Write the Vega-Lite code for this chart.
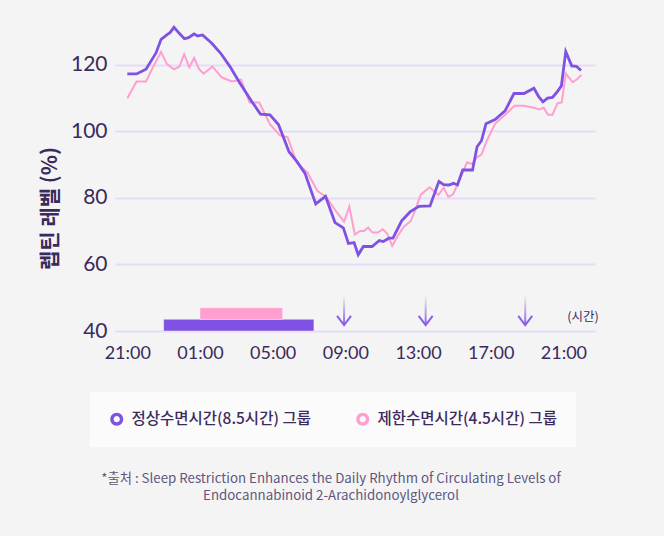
{
  "$schema": "https://vega.github.io/schema/vega-lite/v6.json",
  "width": 480,
  "height": 306,
  "autosize": {"type": "none"},
  "padding": {"left": 115, "top": 25, "right": 69, "bottom": 205},
  "background": "#f4f4f4",
  "config": {
    "view": {"stroke": null},
    "font": "Lato"
  },
  "title": {
    "text": ["*출처 : Sleep Restriction Enhances the Daily Rhythm of Circulating Levels of", "Endocannabinoid 2-Arachidonoylglycerol"],
    "orient": "bottom",
    "anchor": "middle",
    "frame": "group",
    "offset": 25,
    "dx": -24,
    "font": "Noto Sans CJK KR",
    "fontSize": 13.3,
    "fontWeight": "normal",
    "lineHeight": 16.5,
    "color": "#5f5780"
  },
  "datasets": {
    "normal": [
      {"g":"정상수면시간(8.5시간) 그룹","h":0.00,"v":117.3},{"g":"정상수면시간(8.5시간) 그룹","h":0.51,"v":117.3},{"g":"정상수면시간(8.5시간) 그룹","h":1.03,"v":118.7},{"g":"정상수면시간(8.5시간) 그룹","h":1.58,"v":123.6},{"g":"정상수면시간(8.5시간) 그룹","h":1.86,"v":127.7},{"g":"정상수면시간(8.5시간) 그룹","h":2.21,"v":129.2},{"g":"정상수면시간(8.5시간) 그룹","h":2.35,"v":129.7},{"g":"정상수면시간(8.5시간) 그룹","h":2.57,"v":131.3},{"g":"정상수면시간(8.5시간) 그룹","h":2.86,"v":129.5},{"g":"정상수면시간(8.5시간) 그룹","h":3.14,"v":127.9},{"g":"정상수면시간(8.5시간) 그룹","h":3.37,"v":128.2},{"g":"정상수면시간(8.5시간) 그룹","h":3.67,"v":129.3},{"g":"정상수면시간(8.5시간) 그룹","h":3.88,"v":128.7},{"g":"정상수면시간(8.5시간) 그룹","h":4.14,"v":129.0},{"g":"정상수면시간(8.5시간) 그룹","h":4.65,"v":126.5},{"g":"정상수면시간(8.5시간) 그룹","h":5.14,"v":123.5},{"g":"정상수면시간(8.5시간) 그룹","h":5.65,"v":119.5},{"g":"정상수면시간(8.5시간) 그룹","h":6.20,"v":114.5},{"g":"정상수면시간(8.5시간) 그룹","h":6.85,"v":109.0},{"g":"정상수면시간(8.5시간) 그룹","h":7.33,"v":105.2},{"g":"정상수면시간(8.5시간) 그룹","h":7.85,"v":105.0},{"g":"정상수면시간(8.5시간) 그룹","h":8.32,"v":102.1},{"g":"정상수면시간(8.5시간) 그룹","h":8.90,"v":93.9},{"g":"정상수면시간(8.5시간) 그룹","h":9.34,"v":90.9},{"g":"정상수면시간(8.5시간) 그룹","h":9.78,"v":87.4},{"g":"정상수면시간(8.5시간) 그룹","h":10.37,"v":78.2},{"g":"정상수면시간(8.5시간) 그룹","h":10.91,"v":80.5},{"g":"정상수면시간(8.5시간) 그룹","h":11.43,"v":72.6},{"g":"정상수면시간(8.5시간) 그룹","h":11.89,"v":71.0},{"g":"정상수면시간(8.5시간) 그룹","h":12.17,"v":66.3},{"g":"정상수면시간(8.5시간) 그룹","h":12.48,"v":66.6},{"g":"정상수면시간(8.5시간) 그룹","h":12.71,"v":62.9},{"g":"정상수면시간(8.5시간) 그룹","h":12.99,"v":65.4},{"g":"정상수면시간(8.5시간) 그룹","h":13.47,"v":65.4},{"g":"정상수면시간(8.5시간) 그룹","h":13.87,"v":67.2},{"g":"정상수면시간(8.5시간) 그룹","h":14.09,"v":66.9},{"g":"정상수면시간(8.5시간) 그룹","h":14.40,"v":67.9},{"g":"정상수면시간(8.5시간) 그룹","h":14.62,"v":67.9},{"g":"정상수면시간(8.5시간) 그룹","h":15.10,"v":73.1},{"g":"정상수면시간(8.5시간) 그룹","h":15.56,"v":75.8},{"g":"정상수면시간(8.5시간) 그룹","h":16.05,"v":77.5},{"g":"정상수면시간(8.5시간) 그룹","h":16.66,"v":77.6},{"g":"정상수면시간(8.5시간) 그룹","h":17.15,"v":85.0},{"g":"정상수면시간(8.5시간) 그룹","h":17.41,"v":84.0},{"g":"정상수면시간(8.5시간) 그룹","h":17.70,"v":83.9},{"g":"정상수면시간(8.5시간) 그룹","h":17.95,"v":84.4},{"g":"정상수면시간(8.5시간) 그룹","h":18.17,"v":83.9},{"g":"정상수면시간(8.5시간) 그룹","h":18.46,"v":88.4},{"g":"정상수면시간(8.5시간) 그룹","h":19.00,"v":88.4},{"g":"정상수면시간(8.5시간) 그룹","h":19.25,"v":95.4},{"g":"정상수면시간(8.5시간) 그룹","h":19.49,"v":97.2},{"g":"정상수면시간(8.5시간) 그룹","h":19.74,"v":102.3},{"g":"정상수면시간(8.5시간) 그룹","h":20.24,"v":103.6},{"g":"정상수면시간(8.5시간) 그룹","h":20.79,"v":106.2},{"g":"정상수면시간(8.5시간) 그룹","h":21.28,"v":111.4},{"g":"정상수면시간(8.5시간) 그룹","h":21.83,"v":111.4},{"g":"정상수면시간(8.5시간) 그룹","h":22.38,"v":113.0},{"g":"정상수면시간(8.5시간) 그룹","h":22.65,"v":110.4},{"g":"정상수면시간(8.5시간) 그룹","h":22.88,"v":108.9},{"g":"정상수면시간(8.5시간) 그룹","h":23.13,"v":110.0},{"g":"정상수면시간(8.5시간) 그룹","h":23.40,"v":110.2},{"g":"정상수면시간(8.5시간) 그룹","h":23.63,"v":111.7},{"g":"정상수면시간(8.5시간) 그룹","h":23.89,"v":113.7},{"g":"정상수면시간(8.5시간) 그룹","h":24.13,"v":124.0},{"g":"정상수면시간(8.5시간) 그룹","h":24.46,"v":119.7},{"g":"정상수면시간(8.5시간) 그룹","h":24.72,"v":119.6},{"g":"정상수면시간(8.5시간) 그룹","h":24.97,"v":118.3}
    ],
    "restricted": [
      {"g":"제한수면시간(4.5시간) 그룹","h":0.00,"v":110.0},{"g":"제한수면시간(4.5시간) 그룹","h":0.51,"v":115.0},{"g":"제한수면시간(4.5시간) 그룹","h":1.03,"v":115.0},{"g":"제한수면시간(4.5시간) 그룹","h":1.43,"v":119.5},{"g":"제한수면시간(4.5시간) 그룹","h":1.86,"v":123.9},{"g":"제한수면시간(4.5시간) 그룹","h":2.17,"v":120.3},{"g":"제한수면시간(4.5시간) 그룹","h":2.57,"v":118.7},{"g":"제한수면시간(4.5시간) 그룹","h":2.87,"v":119.5},{"g":"제한수면시간(4.5시간) 그룹","h":3.13,"v":123.2},{"g":"제한수면시간(4.5시간) 그룹","h":3.41,"v":119.3},{"g":"제한수면시간(4.5시간) 그룹","h":3.68,"v":122.1},{"g":"제한수면시간(4.5시간) 그룹","h":3.95,"v":118.7},{"g":"제한수면시간(4.5시간) 그룹","h":4.20,"v":117.4},{"g":"제한수면시간(4.5시간) 그룹","h":4.69,"v":119.5},{"g":"제한수면시간(4.5시간) 그룹","h":5.21,"v":116.2},{"g":"제한수면시간(4.5시간) 그룹","h":5.76,"v":115.0},{"g":"제한수면시간(4.5시간) 그룹","h":6.26,"v":115.6},{"g":"제한수면시간(4.5시간) 그룹","h":6.73,"v":108.7},{"g":"제한수면시간(4.5시간) 그룹","h":7.26,"v":108.7},{"g":"제한수면시간(4.5시간) 그룹","h":7.85,"v":102.2},{"g":"제한수면시간(4.5시간) 그룹","h":8.40,"v":98.8},{"g":"제한수면시간(4.5시간) 그룹","h":8.82,"v":98.3},{"g":"제한수면시간(4.5시간) 그룹","h":9.32,"v":90.7},{"g":"제한수면시간(4.5시간) 그룹","h":9.92,"v":87.6},{"g":"제한수면시간(4.5시간) 그룹","h":10.47,"v":82.1},{"g":"제한수면시간(4.5시간) 그룹","h":10.95,"v":80.3},{"g":"제한수면시간(4.5시간) 그룹","h":11.43,"v":76.4},{"g":"제한수면시간(4.5시간) 그룹","h":11.93,"v":72.9},{"g":"제한수면시간(4.5시간) 그룹","h":12.22,"v":77.4},{"g":"제한수면시간(4.5시간) 그룹","h":12.52,"v":69.0},{"g":"제한수면시간(4.5시간) 그룹","h":12.81,"v":70.1},{"g":"제한수면시간(4.5시간) 그룹","h":13.03,"v":70.1},{"g":"제한수면시간(4.5시간) 그룹","h":13.26,"v":71.1},{"g":"제한수면시간(4.5시간) 그룹","h":13.49,"v":69.6},{"g":"제한수면시간(4.5시간) 그룹","h":13.79,"v":69.6},{"g":"제한수면시간(4.5시간) 그룹","h":14.06,"v":70.6},{"g":"제한수면시간(4.5시간) 그룹","h":14.29,"v":69.4},{"g":"제한수면시간(4.5시간) 그룹","h":14.58,"v":65.6},{"g":"제한수면시간(4.5시간) 그룹","h":14.87,"v":68.5},{"g":"제한수면시간(4.5시간) 그룹","h":15.21,"v":71.3},{"g":"제한수면시간(4.5시간) 그룹","h":15.60,"v":73.1},{"g":"제한수면시간(4.5시간) 그룹","h":15.83,"v":76.1},{"g":"제한수면시간(4.5시간) 그룹","h":16.15,"v":81.0},{"g":"제한수면시간(4.5시간) 그룹","h":16.64,"v":83.2},{"g":"제한수면시간(4.5시간) 그룹","h":17.12,"v":80.9},{"g":"제한수면시간(4.5시간) 그룹","h":17.41,"v":83.1},{"g":"제한수면시간(4.5시간) 그룹","h":17.67,"v":80.3},{"g":"제한수면시간(4.5시간) 그룹","h":17.93,"v":81.1},{"g":"제한수면시간(4.5시간) 그룹","h":18.16,"v":83.9},{"g":"제한수면시간(4.5시간) 그룹","h":18.70,"v":90.7},{"g":"제한수면시간(4.5시간) 그룹","h":18.97,"v":90.2},{"g":"제한수면시간(4.5시간) 그룹","h":19.23,"v":92.2},{"g":"제한수면시간(4.5시간) 그룹","h":19.50,"v":93.1},{"g":"제한수면시간(4.5시간) 그룹","h":19.76,"v":96.9},{"g":"제한수면시간(4.5시간) 그룹","h":20.24,"v":102.3},{"g":"제한수면시간(4.5시간) 그룹","h":20.79,"v":105.0},{"g":"제한수면시간(4.5시간) 그룹","h":21.31,"v":107.7},{"g":"제한수면시간(4.5시간) 그룹","h":21.83,"v":107.7},{"g":"제한수면시간(4.5시간) 그룹","h":22.38,"v":107.1},{"g":"제한수면시간(4.5시간) 그룹","h":22.66,"v":106.6},{"g":"제한수면시간(4.5시간) 그룹","h":22.92,"v":107.1},{"g":"제한수면시간(4.5시간) 그룹","h":23.15,"v":105.0},{"g":"제한수면시간(4.5시간) 그룹","h":23.40,"v":105.0},{"g":"제한수면시간(4.5시간) 그룹","h":23.68,"v":108.5},{"g":"제한수면시간(4.5시간) 그룹","h":23.91,"v":108.7},{"g":"제한수면시간(4.5시간) 그룹","h":24.13,"v":117.4},{"g":"제한수면시간(4.5시간) 그룹","h":24.51,"v":114.8},{"g":"제한수면시간(4.5시간) 그룹","h":24.75,"v":115.7},{"g":"제한수면시간(4.5시간) 그룹","h":24.99,"v":117.0}
    ],
    "sleep": [
      {"g":"정상수면시간(8.5시간) 그룹","start":2.0,"end":10.27,"lo":40,"hi":43.5},
      {"g":"제한수면시간(4.5시간) 그룹","start":4.0,"end":8.55,"lo":43.5,"hi":47}
    ],
    "arrows": [
      {"h":11.93,"top":50.8,"tip":41.8},
      {"h":16.42,"top":50.8,"tip":41.8},
      {"h":21.9,"top":50.8,"tip":41.8}
    ],
    "unit": [
      {"h":25.08,"v":44.3,"t":"(시간)"}
    ]
  },
  "layer": [
    {
      "data": {"name": "restricted"},
      "mark": {"type": "line", "strokeWidth": 2},
      "encoding": {
        "x": {
          "field": "h", "type": "quantitative",
          "scale": {"domain": [-0.677, 25.74], "nice": false, "zero": false, "padding": 0},
          "axis": {
            "title": null,
            "values": [0, 4, 8, 12, 16, 20, 24],
            "labelExpr": "(((datum.value+21)%24)<10?'0':'')+((datum.value+21)%24)+':00'",
            "grid": false, "ticks": false, "domain": false,
            "labelFont": "Lato", "labelFontSize": 18, "labelColor": "#3b2a5c",
            "labelPadding": 13
          }
        },
        "y": {
          "field": "v", "type": "quantitative",
          "scale": {"domain": [40, 132], "nice": false, "zero": false, "padding": 0},
          "axis": {
            "title": "렙틴 레벨 (%)",
            "titleFont": "Noto Sans CJK KR", "titleFontSize": 21, "titleFontWeight": "bold",
            "titleColor": "#3b2a5c", "titleX": -55, "titleY": 183,
            "values": [40, 60, 80, 100, 120],
            "grid": true, "gridColor": "#e3dbf8", "gridWidth": 2,
            "ticks": false, "domain": false,
            "labelFont": "Lato", "labelFontSize": 21, "labelColor": "#3b2a5c",
            "labelPadding": 8
          }
        },
        "color": {
          "field": "g", "type": "nominal",
          "scale": {
            "domain": ["정상수면시간(8.5시간) 그룹", "제한수면시간(4.5시간) 그룹"],
            "range": ["#7f52e3", "#ff9fd0"]
          },
          "legend": {
            "title": null,
            "orient": "none",
            "legendX": -25,
            "legendY": 367,
            "direction": "horizontal",
            "symbolType": "M-1,0A1,1,0,1,0,1,0A1,1,0,1,0,-1,0ZM-0.48,0A0.48,0.48,0,1,1,0.48,0A0.48,0.48,0,1,1,-0.48,0Z",
            "symbolSize": 169,
            "symbolStrokeWidth": 0,
            "labelFont": "Noto Sans CJK KR",
            "labelFontSize": 15.5,
            "labelFontWeight": 500,
            "labelColor": "#3b2a5c",
            "labelOffset": 7,
            "labelLimit": 400,
            "columnPadding": 44,
            "padding": 19,
            "fillColor": "#fbfbfb"
          }
        }
      }
    },
    {
      "data": {"name": "normal"},
      "mark": {"type": "line", "strokeWidth": 2.8},
      "encoding": {
        "x": {"field": "h", "type": "quantitative"},
        "y": {"field": "v", "type": "quantitative"},
        "color": {"field": "g", "type": "nominal"}
      }
    },
    {
      "data": {"name": "sleep"},
      "mark": {"type": "rect", "stroke": "#ffffff", "strokeOpacity": 0.5, "strokeWidth": 0.8},
      "encoding": {
        "x": {"field": "start", "type": "quantitative"},
        "x2": {"field": "end"},
        "y": {"field": "lo", "type": "quantitative"},
        "y2": {"field": "hi"},
        "color": {"field": "g", "type": "nominal", "legend": null}
      }
    },
    {
      "data": {"name": "arrows"},
      "mark": {
        "type": "bar", "width": 2,
        "fill": {
          "gradient": "linear", "x1": 0, "y1": 0, "x2": 0, "y2": 1,
          "stops": [
            {"offset": 0, "color": "#f4f4f4"},
            {"offset": 1, "color": "#8a5fe6"}
          ]
        }
      },
      "encoding": {
        "x": {"field": "h", "type": "quantitative"},
        "y": {"field": "top", "type": "quantitative"},
        "y2": {"field": "tip"}
      }
    },
    {
      "data": {"name": "arrows"},
      "mark": {"type": "point", "shape": "M-1,-1.3L0,0L1,-1.3", "size": 196, "filled": false, "strokeWidth": 2, "color": "#8a5fe6", "opacity": 1},
      "encoding": {
        "x": {"field": "h", "type": "quantitative"},
        "y": {"field": "tip", "type": "quantitative"}
      }
    },
    {
      "data": {"name": "unit"},
      "mark": {"type": "text", "font": "Noto Sans CJK KR", "fontSize": 12.5, "color": "#3b2a5c", "align": "center", "baseline": "middle"},
      "encoding": {
        "x": {"field": "h", "type": "quantitative"},
        "y": {"field": "v", "type": "quantitative"},
        "text": {"field": "t"}
      }
    }
  ]
}
